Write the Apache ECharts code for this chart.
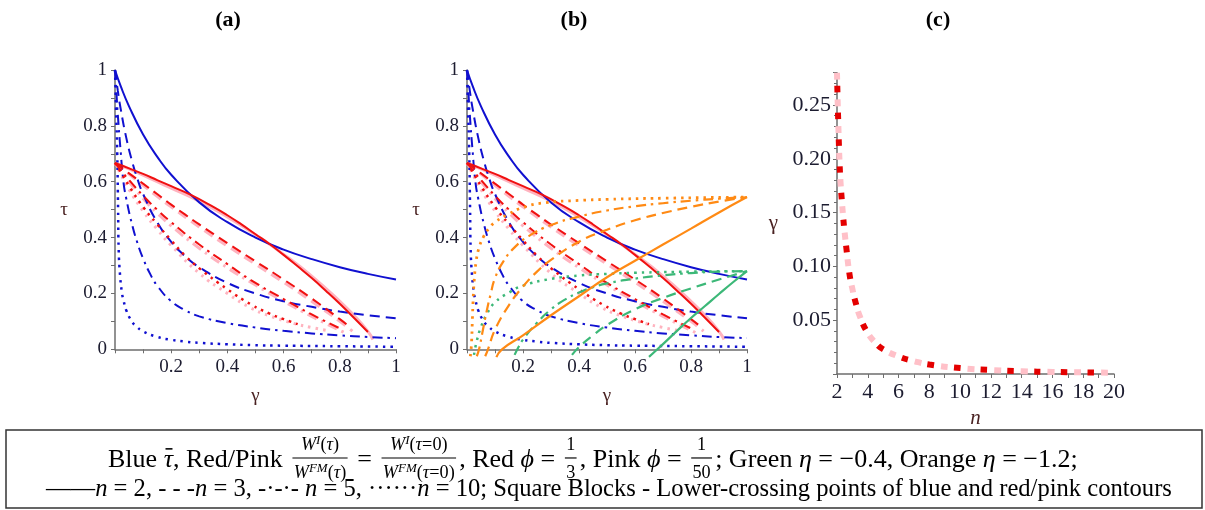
<!DOCTYPE html>
<html>
<head>
<meta charset="utf-8">
<script src="https://cdn.jsdelivr.net/npm/echarts@6/dist/echarts.min.js"></script>
<style>
  html, body { margin: 0; padding: 0; background: #fff; }
  #chart { width: 1205px; height: 510px; }
</style>
</head>
<body>
<div id="chart"></div>
<script>
// ---------- data: [gamma, tau] pairs ----------
// blue: tau-bar contours for n = 2, 3, 5, 10
const blueN2 = [[0,1],[0.02,0.943],[0.05,0.87],[0.1,0.769],[0.15,0.69],[0.2,0.625],[0.3,0.526],[0.4,0.455],[0.5,0.4],[0.6,0.357],[0.7,0.323],[0.8,0.294],[0.9,0.27],[1,0.25]];
const blueN3 = [[0,1],[0.01,0.926],[0.02,0.862],[0.04,0.758],[0.06,0.676],[0.08,0.61],[0.1,0.556],[0.15,0.455],[0.2,0.385],[0.25,0.333],[0.3,0.294],[0.4,0.238],[0.5,0.2],[0.6,0.172],[0.7,0.152],[0.8,0.135],[0.9,0.122],[1,0.111]];
const blueN5 = [[0,1],[0.005,0.92],[0.01,0.84],[0.02,0.71],[0.03,0.6],[0.04,0.54],[0.06,0.45],[0.08,0.38],[0.1,0.325],[0.125,0.27],[0.15,0.228],[0.2,0.172],[0.25,0.14],[0.3,0.118],[0.4,0.094],[0.5,0.078],[0.6,0.066],[0.7,0.057],[0.8,0.05],[0.9,0.044],[1,0.04]];
const blueN10 = [[0,1],[0.004,0.85],[0.008,0.7],[0.011,0.5],[0.013,0.36],[0.018,0.265],[0.025,0.2],[0.03,0.177],[0.04,0.14],[0.06,0.1],[0.077,0.081],[0.1,0.064],[0.148,0.045],[0.2,0.034],[0.255,0.027],[0.3,0.023],[0.4,0.018],[0.486,0.015],[0.6,0.013],[0.8,0.011],[1,0.009]];

// red (phi = 1/3) and pink (phi = 1/50) contours for n = 2, 3, 5, 10
const redN2 = [[0,0.667],[0.05,0.648],[0.1,0.628],[0.15,0.606],[0.2,0.584],[0.27,0.553],[0.35,0.51],[0.4,0.48],[0.45,0.447],[0.5,0.412],[0.55,0.377],[0.6,0.338],[0.65,0.297],[0.7,0.255],[0.75,0.21],[0.8,0.163],[0.85,0.113],[0.9,0.062]];
const pinkN2 = [[0,0.667],[0.05,0.646],[0.1,0.624],[0.15,0.6],[0.2,0.577],[0.3,0.53],[0.4,0.474],[0.5,0.41],[0.6,0.34],[0.7,0.262],[0.8,0.172],[0.85,0.122],[0.9,0.064],[0.918,0.035]];
const redN3 = [[0,0.667],[0.05,0.63],[0.1,0.593],[0.15,0.556],[0.2,0.518],[0.25,0.482],[0.3,0.447],[0.4,0.38],[0.5,0.315],[0.6,0.25],[0.7,0.182],[0.8,0.108],[0.83,0.085]];
const pinkN3 = [[0,0.667],[0.05,0.627],[0.1,0.587],[0.15,0.548],[0.2,0.51],[0.3,0.438],[0.4,0.37],[0.5,0.305],[0.6,0.24],[0.7,0.172],[0.8,0.1],[0.845,0.065]];
const redN5 = [[0,0.667],[0.02,0.642],[0.05,0.606],[0.1,0.55],[0.15,0.5],[0.2,0.455],[0.3,0.375],[0.4,0.305],[0.485,0.247],[0.6,0.18],[0.7,0.125],[0.8,0.075]];
const pinkN5 = [[0,0.667],[0.02,0.638],[0.05,0.6],[0.1,0.54],[0.15,0.488],[0.2,0.442],[0.3,0.362],[0.4,0.292],[0.5,0.23],[0.6,0.172],[0.7,0.118],[0.82,0.058]];
const redN10 = [[0,0.667],[0.02,0.635],[0.05,0.585],[0.1,0.51],[0.15,0.448],[0.2,0.39],[0.25,0.335],[0.3,0.29],[0.4,0.215],[0.485,0.16],[0.55,0.128],[0.6,0.108],[0.65,0.09]];
const pinkN10 = [[0,0.667],[0.02,0.628],[0.05,0.572],[0.1,0.495],[0.15,0.43],[0.2,0.372],[0.3,0.272],[0.4,0.2],[0.48,0.15],[0.55,0.12],[0.635,0.093],[0.7,0.078],[0.75,0.068]];

// green (eta = -0.4) and orange (eta = -1.2) contours, panel (b)
const greenN2 = [[0.65,-0.027],[0.68,0],[0.75,0.066],[0.8,0.112],[0.85,0.155],[0.9,0.198],[0.95,0.24],[1,0.28]];
const greenN3 = [[0.375,-0.02],[0.4,0.008],[0.45,0.05],[0.5,0.087],[0.6,0.143],[0.7,0.184],[0.8,0.218],[0.9,0.25],[1,0.28]];
const greenN5 = [[0.17,-0.02],[0.185,0.01],[0.2,0.035],[0.25,0.095],[0.3,0.143],[0.35,0.178],[0.4,0.203],[0.45,0.222],[0.5,0.236],[0.6,0.253],[0.7,0.265],[0.8,0.273],[0.9,0.278],[1,0.28]];
const greenN10 = [[0.025,-0.02],[0.035,0.03],[0.05,0.08],[0.07,0.125],[0.1,0.168],[0.15,0.203],[0.2,0.228],[0.3,0.252],[0.4,0.264],[0.5,0.27],[0.6,0.274],[0.8,0.278],[1,0.28]];
const orangeN2 = [[0.105,-0.028],[0.125,0],[0.2,0.05],[0.3,0.122],[0.4,0.19],[0.5,0.258],[0.6,0.317],[0.7,0.375],[0.8,0.432],[0.9,0.49],[1,0.545]];
const orangeN3 = [[0.065,-0.025],[0.075,0],[0.1,0.07],[0.15,0.158],[0.2,0.225],[0.25,0.278],[0.3,0.32],[0.4,0.385],[0.5,0.428],[0.6,0.462],[0.7,0.488],[0.8,0.51],[0.9,0.529],[1,0.545]];
const orangeN5 = [[0.035,-0.025],[0.043,0],[0.055,0.06],[0.07,0.135],[0.085,0.2],[0.1,0.255],[0.13,0.315],[0.17,0.365],[0.22,0.405],[0.3,0.445],[0.4,0.475],[0.5,0.497],[0.6,0.512],[0.7,0.523],[0.8,0.532],[0.9,0.539],[1,0.545]];
const orangeN10 = [[0.012,-0.025],[0.016,0.02],[0.019,0.1],[0.022,0.18],[0.026,0.25],[0.032,0.31],[0.042,0.36],[0.06,0.405],[0.08,0.435],[0.1,0.455],[0.15,0.485],[0.2,0.508],[0.28,0.525],[0.4,0.533],[0.5,0.537],[0.7,0.541],[1,0.545]];

// panel (c): lower-crossing gamma against n, [n, gamma]
const crossRed = [[2,0.28],[2.04,0.255],[2.08,0.235],[2.12,0.215],[2.17,0.195],[2.23,0.178],[2.3,0.164],[2.4,0.146],[2.5,0.131],[2.6,0.118],[2.8,0.094],[3,0.079],[3.2,0.067],[3.5,0.053],[4,0.038],[4.5,0.029],[5,0.023],[6,0.0163],[7,0.012],[8,0.0088],[10,0.0055],[12,0.0037],[14,0.0026],[16,0.0019],[18,0.0015],[20,0.0012]];
const crossPink = [[2,0.28],[2.04,0.255],[2.08,0.235],[2.12,0.215],[2.17,0.195],[2.23,0.178],[2.3,0.164],[2.4,0.146],[2.5,0.131],[2.6,0.118],[2.8,0.094],[3,0.079],[3.2,0.067],[3.5,0.053],[4,0.038],[4.5,0.029],[5,0.023],[6,0.0163],[7,0.012],[8,0.0088],[10,0.0055],[12,0.0037],[14,0.0026],[16,0.0019],[18,0.0015],[20,0.0012]];

const panelTitles = ['(a)', '(b)', '(c)'];

// ---------- styles ----------
const SERIF = "'Liberation Serif', 'DejaVu Serif', serif";
const BLUE = '#1010d0', RED = '#f01010', PINK = '#ffb3bf', GREEN = '#3cb878', ORANGE = '#ff8a14';
const SOLID = 'solid', DASH = [10, 6], DASHDOT = [10, 5, 2.5, 5], DOT = [2.5, 5];
const AXIS = '#6e6e6e', LABEL = '#1c1c30', NAME = '#4a2222';

function curve(data, color, dash, width, idx, z) {
  return {
    type: 'line', data, xAxisIndex: idx, yAxisIndex: idx,
    symbol: 'none', smooth: 0.5, clip: false,
    silent: true, animation: false, z,
    lineStyle: { color, width, type: dash, cap: 'butt' }
  };
}

const series = [];
[0, 1].forEach(p => {
  const sets = [
    [pinkN2, PINK, SOLID, 3, 2], [pinkN3, PINK, DASH, 3, 2], [pinkN5, PINK, DASHDOT, 3, 2], [pinkN10, PINK, DOT, 3, 2],
    [blueN2, BLUE, SOLID, 2, 3], [blueN3, BLUE, DASH, 2, 3], [blueN5, BLUE, DASHDOT, 2, 3], [blueN10, BLUE, DOT, 2.5, 3],
    [redN2, RED, SOLID, 2, 4], [redN3, RED, DASH, 2, 4], [redN5, RED, DASHDOT, 2, 4], [redN10, RED, DOT, 2.5, 4]
  ];
  if (p === 1) {
    sets.push(
      [greenN2, GREEN, SOLID, 2.2, 5], [greenN3, GREEN, DASH, 2.2, 5], [greenN5, GREEN, DASHDOT, 2.2, 5], [greenN10, GREEN, DOT, 2.5, 5],
      [orangeN2, ORANGE, SOLID, 2.2, 6], [orangeN3, ORANGE, DASH, 2.2, 6], [orangeN5, ORANGE, DASHDOT, 2.2, 6], [orangeN10, ORANGE, DOT, 2.8, 6]
    );
  }
  sets.forEach(s => series.push(curve(s[0], s[1], s[2], s[3], p, s[4])));
});
// square blocks along the crossing curve: pink and red dashes interleaved
series.push({
  type: 'line', data: crossPink, xAxisIndex: 2, yAxisIndex: 2, symbol: 'none',
  smooth: 0.5, silent: true, animation: false, z: 3,
  lineStyle: { color: '#ffc0c8', width: 6, type: [7, 19.7], dashOffset: 0, cap: 'butt' }
});
series.push({
  type: 'line', data: crossRed, xAxisIndex: 2, yAxisIndex: 2, symbol: 'none',
  smooth: 0.5, silent: true, animation: false, z: 4,
  lineStyle: { color: '#e40000', width: 6, type: [6.5, 20.2], dashOffset: 13.4, cap: 'butt' }
});

const tickStyle = { color: AXIS, width: 1 };
function gammaTauX(idx) {
  return {
    gridIndex: idx, type: 'value', min: 0, max: 1, interval: 0.2,
    axisLine: { show: true, onZero: false, lineStyle: { color: AXIS, width: 1.5 } },
    axisTick: { show: true, length: 4, lineStyle: tickStyle },
    minorTick: { show: true, splitNumber: 2, length: 4, lineStyle: tickStyle },
    splitLine: { show: false }, minorSplitLine: { show: false },
    axisLabel: { margin: 8, fontFamily: SERIF, fontSize: 19, color: LABEL,
      formatter: v => v === 0 ? '' : String(+v.toFixed(1)) },
    name: 'γ', nameLocation: 'middle', nameGap: 37,
    nameTextStyle: { fontFamily: SERIF, fontSize: 19, color: NAME }
  };
}
function gammaTauY(idx) {
  return {
    gridIndex: idx, type: 'value', min: 0, max: 1, interval: 0.2,
    axisLine: { show: true, onZero: false, lineStyle: { color: AXIS, width: 1.5 } },
    axisTick: { show: true, length: 4, lineStyle: tickStyle },
    minorTick: { show: true, splitNumber: 2, length: 4, lineStyle: tickStyle },
    splitLine: { show: false }, minorSplitLine: { show: false },
    axisLabel: { margin: 8, fontFamily: SERIF, fontSize: 19, color: LABEL,
      formatter: v => String(+v.toFixed(1)) },
    name: 'τ', nameLocation: 'middle', nameGap: 47, nameRotate: 0,
    nameTextStyle: { fontFamily: SERIF, fontSize: 19, color: NAME }
  };
}

// ---------- legend box text, laid out as inline math ----------
const mctx = document.createElement('canvas').getContext('2d');
function tw(s, size, it) {
  mctx.font = (it ? 'italic ' : '') + size + 'px ' + SERIF;
  return mctx.measureText(s).width;
}
const R = s => ({ k: 'r', s, it: false, sc: 1, dy: 0 });
const M = (s, bar) => ({ k: 'r', s, it: true, sc: 1, dy: 0, bar: !!bar });
const fs = (s, it) => ({ k: 'r', s, it: !!it, sc: 0.7, dy: 0 });
const fsup = s => ({ k: 'r', s, it: true, sc: 0.5, dy: 0.22 });
const F = (num, den) => ({ k: 'f', num, den });

const legendLine1 = [
  R('Blue '), M('τ', true), R(', Red/Pink '),
  F([fs('W', 1), fsup('I'), fs('('), fs('τ', 1), fs(')')], [fs('W', 1), fsup('FM'), fs('('), fs('τ', 1), fs(')')]),
  R(' = '),
  F([fs('W', 1), fsup('I'), fs('('), fs('τ', 1), fs('=0)')], [fs('W', 1), fsup('FM'), fs('('), fs('τ', 1), fs('=0)')]),
  R(', Red '), M('ϕ'), R(' = '), F([fs('1')], [fs('3')]),
  R(', Pink '), M('ϕ'), R(' = '), F([fs('1')], [fs('50')]),
  R('; Green '), M('η'), R(' = −0.4, Orange '), M('η'), R(' = −1.2;')
];
const legendLine2 = [
  R('——'), M('n'), R(' = 2, '), R('- - -'), M('n'), R(' = 3, '), R('-·-·- '), M('n'), R(' = 5, '),
  R('······'), M('n'), R(' = 10; Square Blocks - Lower-crossing points of blue and red/pink contours')
];

// y of a middle-aligned text element whose baseline should sit at `baseline`
function textEl(s, x, baseline, size, it) {
  return { type: 'text', x, y: baseline - 0.19 * size, silent: true,
    style: { text: s, fontSize: size, fontFamily: SERIF, fontStyle: it ? 'italic' : 'normal',
      fill: '#000', align: 'left', verticalAlign: 'middle' } };
}
function ruleEl(x1, y, x2, w) {
  return { type: 'line', silent: true, shape: { x1, y1: y, x2, y2: y }, style: { stroke: '#000', lineWidth: w } };
}
function place(items, S, x0, base, els) {
  let x = x0;
  const rw = r => tw(r.s, S * r.sc, r.it);
  for (const it of items) {
    if (it.k === 'r') {
      const w = rw(it);
      if (els) {
        els.push(textEl(it.s, x, base - it.dy * S, S * it.sc, it.it));
        if (it.bar) els.push(ruleEl(x + 0.2 * w, base - 0.62 * S, x + 0.95 * w, 0.06 * S));
      }
      x += w;
    } else {
      const numW = it.num.reduce((a, r) => a + rw(r), 0);
      const denW = it.den.reduce((a, r) => a + rw(r), 0);
      const pad = 0.12 * S, barW = Math.max(numW, denW) + 0.1 * S;
      if (els) {
        let xn = x + pad + (barW - numW) / 2;
        for (const r of it.num) { els.push(textEl(r.s, xn, base - 0.62 * S - r.dy * S, S * r.sc, r.it)); xn += rw(r); }
        let xd = x + pad + (barW - denW) / 2;
        for (const r of it.den) { els.push(textEl(r.s, xd, base + 0.44 * S - r.dy * S, S * r.sc, r.it)); xd += rw(r); }
        els.push(ruleEl(x + pad, base - 0.27 * S, x + pad + barW, Math.max(0.8, 0.045 * S)));
      }
      x += barW + 2 * pad;
    }
  }
  return x - x0;
}
function fitLine(items, x0, x1, base, els) {
  const natural = place(items, 18, 0, 0, null);
  const S = 18 * (x1 - x0) / natural;
  place(items, S, x0, base, els);
}

const graphics = [
  { type: 'rect', silent: true, shape: { x: 6, y: 430, width: 1196, height: 78 },
    style: { fill: '#fff', stroke: '#333', lineWidth: 1.5 } }
];
fitLine(legendLine1, 108, 1078, 465, graphics);
fitLine(legendLine2, 46, 1172, 494, graphics);
[228, 574, 938].forEach((cx, i) => graphics.push({
  type: 'text', x: cx, y: 20, silent: true,
  style: { text: panelTitles[i], fontSize: 22, fontWeight: 'bold', fontFamily: SERIF, fill: '#000',
    align: 'center', verticalAlign: 'middle' }
}));

const option = {
  animation: false,
  backgroundColor: '#fff',
  grid: [
    { left: 115, top: 70, width: 281, height: 279.3, outerBoundsMode: 'none' },
    { left: 467, top: 70, width: 280, height: 279.3, outerBoundsMode: 'none' },
    { left: 837, top: 72.7, width: 277, height: 301.3, outerBoundsMode: 'none' }
  ],
  xAxis: [
    gammaTauX(0), gammaTauX(1),
    {
      gridIndex: 2, type: 'value', min: 2, max: 20, interval: 2,
      axisLine: { show: true, onZero: false, lineStyle: { color: AXIS, width: 1.5 } },
      axisTick: { show: true, length: 4, lineStyle: tickStyle },
      minorTick: { show: true, splitNumber: 2, length: 4, lineStyle: tickStyle },
      splitLine: { show: false },
      axisLabel: { margin: 7, fontFamily: SERIF, fontSize: 22, color: LABEL },
      name: 'n', nameLocation: 'middle', nameGap: 33,
      nameTextStyle: { fontFamily: SERIF, fontStyle: 'italic', fontSize: 21, color: NAME }
    }
  ],
  yAxis: [
    gammaTauY(0), gammaTauY(1),
    {
      gridIndex: 2, type: 'value', min: 0, max: 0.28, interval: 0.05,
      axisLine: { show: true, onZero: false, lineStyle: { color: AXIS, width: 1.5 } },
      axisTick: { show: true, length: 4, lineStyle: tickStyle },
      minorTick: { show: true, splitNumber: 5, length: 3, lineStyle: tickStyle },
      splitLine: { show: false },
      axisLabel: { margin: 6, fontFamily: SERIF, fontSize: 22, color: LABEL,
        formatter: v => (v > 0.001 && v < 0.26) ? v.toFixed(2) : '' },
      name: 'γ', nameLocation: 'middle', nameGap: 59, nameRotate: 0,
      nameTextStyle: { fontFamily: SERIF, fontSize: 21, color: NAME }
    }
  ],
  series,
  graphic: { elements: graphics }
};

const chart = echarts.init(document.getElementById('chart'), null, { renderer: 'canvas' });
chart.setOption(option);
</script>
</body>
</html>
